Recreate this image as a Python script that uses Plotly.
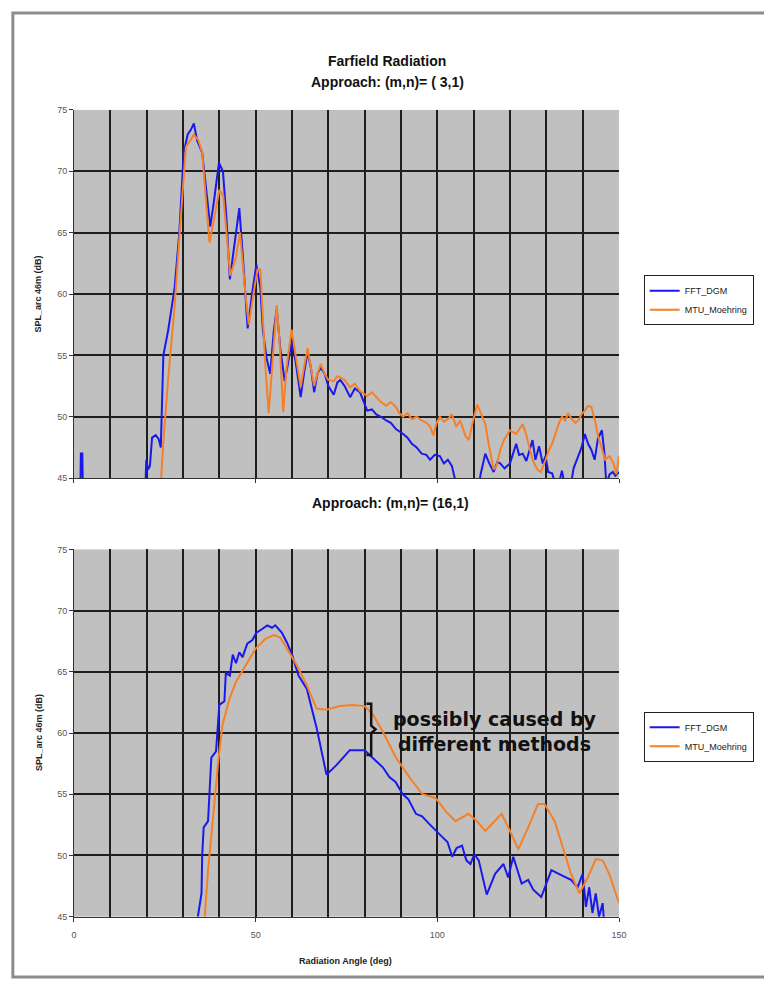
import plotly.graph_objects as go

# ---------------- data: top chart, (m,n) = (3,1) ----------------
top_fft_x = [0, 1.7, 1.9, 2.3, 2.5, 19.5, 19.9, 20.4, 20.9, 21.5, 22.5, 23.3, 23.9, 24.6, 25.9, 27.7,
             29.0, 30.2, 31.3, 32.2, 33.0, 33.9, 35.3, 36.5, 37.5, 38.5, 39.9, 41.0, 42.0, 42.9, 44.0,
             45.5, 46.5, 47.8, 49.0, 50.2, 51.3, 52.0, 53.0, 54.0, 55.0, 55.8, 56.8, 58.0, 59.0, 59.9,
             61.0, 62.4, 63.3, 64.3, 65.2, 66.1, 67.0, 67.9, 69.0, 70.0, 71.5, 72.5, 73.3, 74.5, 76.0,
             77.3, 78.7, 80.7, 82.0, 83.2, 84.5, 85.9, 87.2, 88.6, 90.6, 91.8, 93.0, 94.3, 95.7, 97.0,
             98.0, 99.3, 100.7, 101.8, 102.9, 104.0, 105.2, 111.5, 111.9, 113.2, 114.3, 115.5, 116.5,
             117.3, 118.5, 120.0, 121.7, 122.5, 123.5, 124.5, 126.2, 127.0, 128.0, 129.0, 129.8, 130.5,
             131.6, 132.5, 133.5, 134.3, 135.0, 136.8, 137.5, 138.8, 139.7, 140.6, 141.5, 142.4, 143.3,
             144.2, 145.3, 146.0, 146.5, 147.4, 148.3, 149.0, 150.0]
top_fft_y = [43, 43, 47, 47, 43, 43, 46.5, 45.7, 46.0, 48.3, 48.5, 48.2, 47.5, 55.0, 57.0, 60.5,
             65.0, 71.5, 73.0, 73.4, 73.9, 72.5, 71.5, 68.0, 65.5, 67.5, 70.7, 70.0, 66.0, 61.2, 63.5,
             67.0, 63.0, 57.2, 60.0, 62.4, 60.5, 57.0, 54.8, 53.5, 57.0, 58.8, 55.5, 52.9, 54.5, 56.1,
             54.5, 51.6, 53.5, 55.3, 54.0, 52.0, 53.5, 54.0, 53.5, 52.5, 51.8, 52.8, 53.0, 52.5, 51.6,
             52.3, 52.0, 50.5, 50.6, 50.2, 50.0, 49.7, 49.5, 49.0, 48.6, 48.3, 47.8, 47.5, 47.0, 46.9,
             46.5, 46.9, 46.8, 46.2, 46.5, 46.0, 44.5, 44.5, 45.3, 47.0, 46.2, 45.5, 46.3,
             46.2, 45.8, 46.2, 47.8, 46.9, 47.0, 46.4, 48.1, 46.5, 47.6, 46.2, 46.8, 45.5,
             45.4, 44.5, 44.6, 45.6, 44.5, 44.5, 45.8, 46.8, 47.5, 48.6, 47.8, 47.3, 46.5,
             48.2, 48.9, 47.0, 44.5, 45.3, 45.5, 45.2, 45.5]

top_mtu_x = [23.9, 24.6, 25.9, 27.7, 29.0, 30.2, 30.8, 32.0, 33.0, 34.3, 35.3, 36.5, 37.3, 38.5, 40.0,
             41.1, 42.3, 43.0, 44.6, 45.7, 47.2, 48.1, 49.4, 50.5, 51.3, 52.0, 52.7, 53.6, 54.5, 55.8,
             56.6, 57.6, 58.5, 59.9, 61.0, 62.4, 63.3, 64.3, 65.2, 66.1, 67.0, 67.9, 69.0, 70.0, 71.5,
             72.5, 73.3, 74.5, 76.0, 77.3, 78.7, 80.7, 82.0, 83.2, 84.5, 85.9, 87.2, 88.6, 89.5, 90.6,
             91.8, 93.0, 94.3, 95.7, 97.0, 98.0, 98.9, 99.8, 100.7, 101.8, 102.9, 104.0, 105.2, 106.3,
             107.8, 108.7, 109.7, 111.0, 112.0, 113.2, 114.3, 115.5, 116.3, 117.3, 118.5, 120.0, 121.7,
             122.5, 123.5, 124.5, 125.5, 126.2, 127.5, 128.5, 129.8, 130.7, 131.6, 132.5, 133.5, 134.3,
             135.2, 136.0, 137.0, 138.0, 138.8, 139.7, 140.6, 141.5, 142.4, 143.3, 144.2, 145.3, 146.2,
             147.4, 148.5, 149.3, 150.0]
top_mtu_y = [44.5, 48.0, 53.0, 59.0, 64.5, 70.0, 72.0, 72.5, 73.0, 72.5, 71.5, 67.0, 64.2, 66.0, 68.5,
             68.0, 64.0, 61.5, 63.0, 65.0, 60.0, 57.5, 60.0, 62.0, 62.0, 58.0, 54.0, 50.3, 54.0, 59.1,
             56.0, 50.4, 54.0, 57.1, 55.0, 52.4, 54.0, 55.6, 54.0, 52.5, 53.5, 54.3, 53.5, 53.0, 52.9,
             53.3, 53.2, 53.0, 52.4, 52.7, 52.1, 51.7, 52.0, 51.6, 51.2, 50.9, 51.2, 50.8, 50.3, 50.0,
             50.3, 49.8, 50.0, 49.7, 49.5, 49.2, 48.5, 49.5, 50.0, 49.6, 49.8, 50.2, 49.2, 49.7,
             48.4, 48.1, 49.5, 51.0, 50.2, 49.4, 47.5, 45.7, 46.0, 47.3, 48.2, 48.9, 48.6,
             49.0, 49.4, 48.5, 47.2, 46.5, 45.7, 45.5, 46.5, 47.3, 47.8, 48.6, 49.5, 50.0,
             49.7, 50.3, 49.8, 49.5, 49.7, 50.2, 50.5, 50.9, 50.8, 49.8, 48.5, 47.4, 46.5,
             46.8, 46.2, 45.3, 46.8]

# ---------------- data: bottom chart, (m,n) = (16,1) ----------------
bot_fft_x = [34.1, 35.1, 35.3, 35.7, 36.9, 37.3, 37.8, 39.1, 40.0, 41.4, 41.8, 42.9, 43.7, 44.6, 45.5,
             46.4, 47.7, 49.1, 50.2, 51.8, 53.2, 54.5, 55.4, 57.2, 58.6, 60.0, 61.8, 64.1, 66.8, 69.5,
             72.3, 75.9, 80.0, 83.2, 85.0, 86.8, 88.5, 90.5, 92.0, 94.1, 95.8, 97.7, 99.5, 101.4, 102.8,
             104.1, 105.3, 106.8, 108.0, 109.1, 110.2, 111.4, 113.6,
             115.9, 118.2, 119.5, 120.9, 123.2, 125.0, 126.4, 128.6, 131.4, 134.1, 136.8, 138.6, 140.0,
             140.9, 141.8, 142.7, 143.6, 144.5, 145.5, 146.0]
bot_fft_y = [45.0, 46.9, 50.1, 52.3, 52.8, 54.7, 58.0, 58.5, 62.3, 62.6, 64.9, 64.7, 66.4, 65.7, 66.6,
             66.2, 67.3, 67.6, 68.2, 68.5, 68.8, 68.6, 68.8, 68.2, 67.4, 66.4, 64.7, 63.6, 60.4, 56.6,
             57.4, 58.6, 58.6, 57.7, 57.2, 56.4, 56.0, 55.0, 54.6, 53.4, 53.2, 52.6, 52.1, 51.5, 51.1,
             49.9, 50.6, 50.8, 49.6, 49.3, 50.1, 49.6, 46.8,
             48.5, 49.3, 48.2, 49.9, 47.7, 48.0, 47.2, 46.6, 48.8, 48.4, 48.0, 47.4, 48.5,
             45.8, 47.4, 45.3, 46.9, 45.0, 46.1, 44.0]

bot_mtu_x = [36.0, 36.9, 38.2, 39.6, 40.9, 42.8, 44.6, 47.3, 50.0, 52.7, 55.0, 56.8, 59.1, 61.4, 64.1,
             66.8, 69.5, 73.2, 76.8, 80.0, 82.3, 85.0, 88.6, 92.3, 95.9, 99.5, 102.3, 105.0, 108.6,
             110.9, 113.2, 115.9, 117.7, 120.0, 122.3, 125.0, 127.7, 129.5, 132.3, 134.5, 136.8, 139.1,
             141.4, 143.6, 145.5, 147.3, 149.1, 150.0]
bot_mtu_y = [45.0, 48.8, 52.8, 57.4, 60.7, 62.8, 64.2, 65.5, 66.9, 67.7, 68.0, 67.8, 66.6, 65.5, 63.9,
             62.0, 61.9, 62.2, 62.3, 62.2, 61.5, 60.1, 58.0, 56.4, 55.0, 54.7, 53.6, 52.8, 53.4,
             52.8, 52.0, 52.8, 53.4, 52.0, 50.5, 52.3, 54.2, 54.2, 52.8, 50.7, 48.5, 46.9,
             48.2, 49.7, 49.6, 48.5, 46.9, 46.1]

series_names = ["FFT_DGM", "MTU_Moehring"]
x_ticks = [0, 50, 100, 150]

BLUE = "rgb(25,25,235)"
ORANGE = "rgb(245,128,40)"
FONT = "Liberation Sans, Arial, sans-serif"

fig = go.Figure()
fig.add_trace(go.Scatter(x=top_fft_x, y=top_fft_y, name=series_names[0], mode="lines",
                         line=dict(color=BLUE, width=2), xaxis="x", yaxis="y", legend="legend"))
fig.add_trace(go.Scatter(x=top_mtu_x, y=top_mtu_y, name=series_names[1], mode="lines",
                         line=dict(color=ORANGE, width=2), xaxis="x", yaxis="y", legend="legend"))
fig.add_trace(go.Scatter(x=bot_fft_x, y=bot_fft_y, name=series_names[0], mode="lines",
                         line=dict(color=BLUE, width=2), xaxis="x2", yaxis="y2", legend="legend2"))
fig.add_trace(go.Scatter(x=bot_mtu_x, y=bot_mtu_y, name=series_names[1], mode="lines",
                         line=dict(color=ORANGE, width=2), xaxis="x2", yaxis="y2", legend="legend2"))

W, H = 764, 986
xdom = [72 / W, 625 / W]
top_dom = [1 - 478 / H, 1 - 106 / H]
bot_dom = [1 - 921 / H, 1 - 550 / H]

grid = dict(showgrid=True, gridcolor="#1e1e1e", gridwidth=1.5)
tickfont = dict(family=FONT, size=9, color="#555555")

xcommon = dict(range=[0, 150], tickvals=x_ticks, ticks="outside", ticklen=4, tickcolor="#333",
               showline=True, linecolor="#333", linewidth=1, zeroline=False,
               minor=dict(dtick=10, showgrid=True, gridcolor="#1e1e1e", gridwidth=1.5, ticks=""),
               tickfont=tickfont, domain=xdom, **grid)
ycommon = dict(range=[45, 75], dtick=5, ticks="outside", ticklen=4, tickcolor="#333",
               showline=True, linecolor="#333", linewidth=1, zeroline=False,
               tickfont=tickfont, **grid)

legend_common = dict(xanchor="left", yanchor="top", bgcolor="white", bordercolor="#222", borderwidth=1,
                     font=dict(family=FONT, size=9, color="#222"), itemwidth=30, tracegroupgap=0)

fig.update_layout(
    width=W, height=H, margin=dict(l=0, r=0, t=0, b=0),
    paper_bgcolor="white", plot_bgcolor="#c0c0c0",
    font=dict(family=FONT, color="#111"),
    xaxis=dict(anchor="y", showticklabels=False, **xcommon),
    yaxis=dict(anchor="x", domain=top_dom, **ycommon),
    xaxis2=dict(anchor="y2", showticklabels=True, ticklabelstandoff=6, **xcommon),
    yaxis2=dict(anchor="x2", domain=bot_dom, **ycommon),
    legend=dict(x=650 / W, y=1 - 273 / H, **legend_common),
    legend2=dict(x=650 / W, y=1 - 714 / H, **legend_common),
    showlegend=True,
)

ann = []
title_font = dict(family=FONT, size=14, color="#111")
ann.append(dict(text="<b>Farfield Radiation</b>", x=390 / W, y=1 - 57 / H, xref="paper", yref="paper",
                showarrow=False, font=title_font, xanchor="center", yanchor="middle"))
ann.append(dict(text="<b>Approach: (m,n)= ( 3,1)</b>", x=390 / W, y=1 - 78 / H, xref="paper", yref="paper",
                showarrow=False, font=title_font, xanchor="center", yanchor="middle"))
ann.append(dict(text="<b>Approach: (m,n)= (16,1)</b>", x=393 / W, y=1 - 503 / H, xref="paper", yref="paper",
                showarrow=False, font=title_font, xanchor="center", yanchor="middle"))
ylab_font = dict(family=FONT, size=9, color="#222")
ann.append(dict(text="<b>SPL_arc 46m (dB)</b>", x=36 / W, y=1 - 292 / H, xref="paper", yref="paper",
                showarrow=False, font=ylab_font, textangle=-90, xanchor="center", yanchor="middle"))
ann.append(dict(text="<b>SPL_arc 46m (dB)</b>", x=36 / W, y=1 - 735 / H, xref="paper", yref="paper",
                showarrow=False, font=ylab_font, textangle=-90, xanchor="center", yanchor="middle"))
ann.append(dict(text="<b>Radiation Angle (deg)</b>", x=348 / W, y=1 - 966 / H, xref="paper", yref="paper",
                showarrow=False, font=ylab_font, xanchor="center", yanchor="middle"))
ann.append(dict(text="<b>possibly caused by<br>different methods</b>", x=115.8, y=60.1, xref="x2", yref="y2",
                showarrow=False, font=dict(family="DejaVu Sans, sans-serif", size=19, color="#111"),
                xanchor="center", yanchor="middle", align="center"))
fig.update_layout(annotations=ann)

# brace annotation (data coordinates of the bottom chart)
brace_x = [80.5, 81.8, 83.0]
brace_y = [62.4, 60.6, 60.3, 60.0, 58.2]
path = (f"M {brace_x[0]},{brace_y[0]} L {brace_x[1]},{brace_y[0]} L {brace_x[1]},{brace_y[1]} "
        f"L {brace_x[2]},{brace_y[2]} L {brace_x[1]},{brace_y[3]} L {brace_x[1]},{brace_y[4]} "
        f"L {brace_x[0]},{brace_y[4]}")
fig.add_shape(type="path", path=path, xref="x2", yref="y2", line=dict(color="#111", width=2.5))

# outer frame
fig.add_shape(type="rect", xref="paper", yref="paper", x0=10 / W, x1=1.02, y0=1 - 982 / H, y1=1 - 8 / H,
              line=dict(color="#8c8c8c", width=3), layer="below")

fig.write_html("out.html", config={"displayModeBar": False},
               post_script="document.body.style.margin='0';document.body.style.overflow='hidden';")
